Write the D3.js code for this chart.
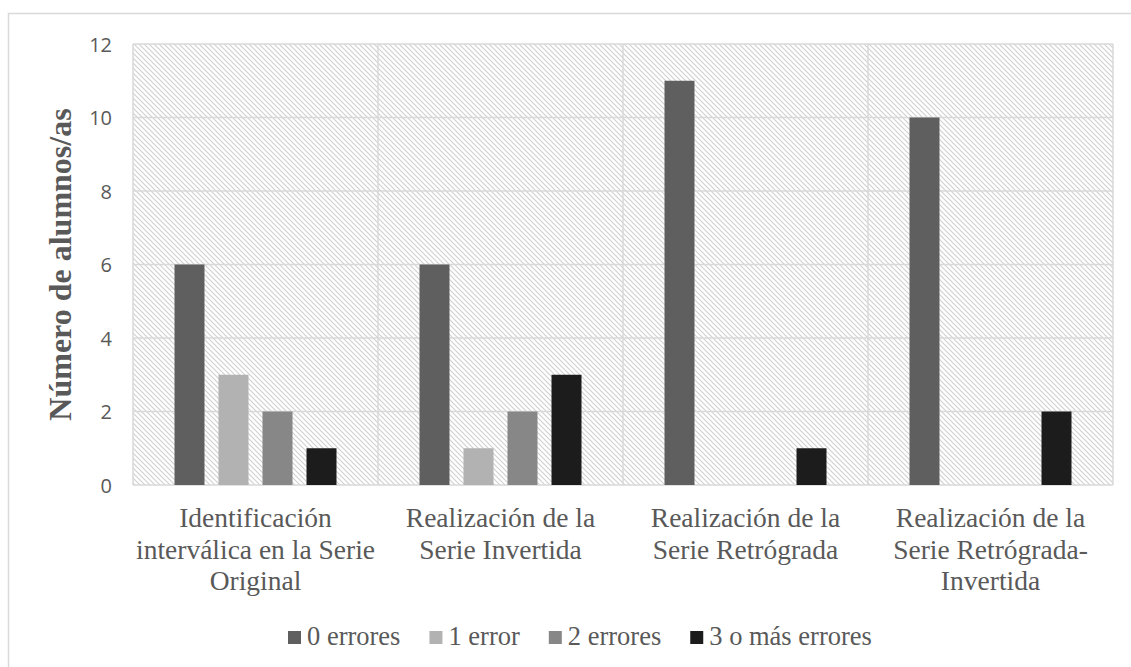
<!DOCTYPE html>
<html><head><meta charset="utf-8">
<script src="https://cdn.jsdelivr.net/npm/d3@7"></script>
<style>body{margin:0;background:#fff}svg{display:block}
.serif{font-family:"Liberation Serif","Times New Roman",Times,Tinos,"DejaVu Serif",serif}
.sans{font-family:"Open Sans","Liberation Sans",sans-serif}
</style>
</head><body>
<svg id="c" width="1131" height="667"></svg>
<script>
const categories = ["Identificación\ninterválica en la Serie\nOriginal", "Realización de la\nSerie Invertida", "Realización de la\nSerie Retrógrada", "Realización de la\nSerie Retrógrada-\nInvertida"];
const seriesNames = ["0 errores", "1 error", "2 errores", "3 o más errores"];
const errores0 = [6, 6, 11, 10];
const error1 = [3, 1, 0, 0];
const errores2 = [2, 2, 0, 0];
const errores3mas = [1, 3, 1, 2];
const yTicks = [0, 2, 4, 6, 8, 10, 12];
const seriesColors = ["#5f5f5f", "#b2b2b2", "#878787", "#1c1c1c"];
const seriesValues = [errores0, error1, errores2, errores3mas];

const svg = d3.select("#c");
const defs = svg.append("defs");
const pat = defs.append("pattern").attr("id","hatch").attr("patternUnits","userSpaceOnUse")
  .attr("width",5).attr("height",5);
pat.append("rect").attr("width",5).attr("height",5).attr("fill","#fff");
pat.append("path").attr("d","M0,0 L5,5 M-1,4 L1,6 M4,-1 L6,1").attr("stroke","#d0d0d0").attr("stroke-width",1.1);

// outer border
svg.append("rect").attr("x",8.5).attr("y",13.5).attr("width",1140).attr("height",700)
  .attr("fill","none").attr("stroke","#d9d9d9").attr("stroke-width",1.5);

const L = 133, R = 1113, T = 44, B = 485;
const x0 = d3.scaleBand().domain(d3.range(categories.length)).range([L, R]).padding(0);
const x1 = d3.scaleBand().domain(d3.range(seriesNames.length)).range([0, x0.bandwidth()])
  .paddingInner(14/44).paddingOuter(0.943);
const y = d3.scaleLinear().domain([0, 12]).range([B, T]);

svg.append("rect").attr("x",L).attr("y",T).attr("width",R-L).attr("height",B-T).attr("fill","url(#hatch)");

// gridlines
const g = svg.append("g");
g.selectAll("line.h").data(yTicks).join("line").attr("class","h")
  .attr("x1",L).attr("x2",R).attr("y1",d=>y(d)).attr("y2",d=>y(d))
  .attr("stroke","#d9d9d9").attr("stroke-width",1.5);
g.selectAll("line.v").data(d3.range(categories.length+1)).join("line").attr("class","v")
  .attr("x1",i=>i<categories.length?x0(i):R).attr("x2",i=>i<categories.length?x0(i):R)
  .attr("y1",T).attr("y2",B).attr("stroke","#d9d9d9").attr("stroke-width",1.5);

// y axis
const yAxis = d3.axisLeft(y).tickValues(yTicks).tickSize(0).tickPadding(0);
const ya = svg.append("g").attr("transform",`translate(${L-21},0)`).call(yAxis);
ya.select(".domain").remove();
ya.attr("font-family",null);
ya.selectAll("text").attr("class","sans").attr("font-size",20)
  .attr("fill","#595959").attr("dy","0.35em");

// bars
seriesValues.forEach((vals, s) => {
  svg.append("g").selectAll("rect").data(vals).join("rect")
    .attr("x",(d,i)=>x0(i)+x1(s)).attr("width",x1.bandwidth())
    .attr("y",d=>y(d)).attr("height",d=>y(0)-y(d)).attr("fill",seriesColors[s]);
});

// category labels
categories.forEach((c,i)=>{
  const lines = c.split("\n");
  const t = svg.append("text").attr("class","serif").attr("x",x0(i)+x0.bandwidth()/2).attr("y",527)
    .attr("text-anchor","middle").attr("font-size",27.5).attr("fill","#595959");
  lines.forEach((ln,k)=>t.append("tspan").attr("x",x0(i)+x0.bandwidth()/2).attr("y",527+k*31.5).text(ln));
});

// y title
svg.append("text").attr("class","serif").attr("transform",`translate(71,${(T+B)/2}) rotate(-90)`)
  .attr("text-anchor","middle").attr("font-weight","bold").attr("font-size",32)
  .attr("fill","#595959").text("Número de alumnos/as");

// legend
let lx = 288;
seriesNames.forEach((n,s)=>{
  svg.append("rect").attr("x",lx).attr("y",631).attr("width",13).attr("height",13).attr("fill",seriesColors[s]);
  const t = svg.append("text").attr("class","serif").attr("x",lx+19).attr("y",645)
    .attr("font-size",26.5).attr("fill","#595959").text(n);
  lx += 19 + t.node().getComputedTextLength() + 29;
});
</script>
</body></html>
